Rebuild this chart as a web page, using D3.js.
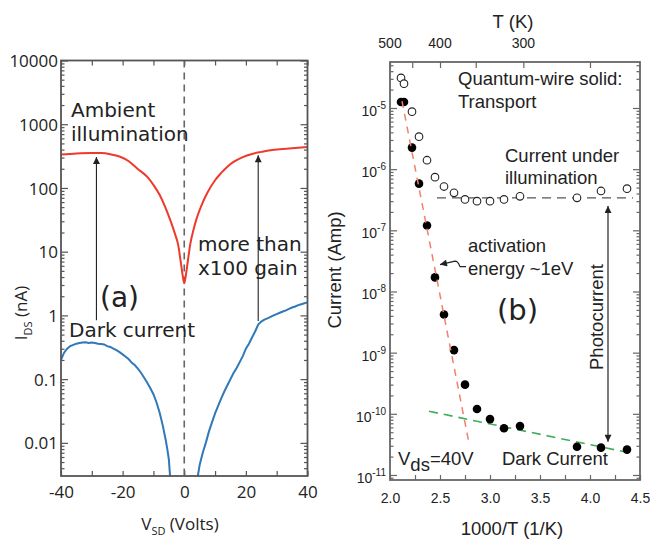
<!DOCTYPE html>
<html>
<head>
<meta charset="utf-8">
<script src="https://d3js.org/d3.v7.min.js"></script>
<style>
  body { margin: 0; background: #fff; }
  svg { display: block; }
  .os { font-family: "Open Sans", sans-serif; fill: #222; }
  .dv { font-family: "DejaVu Sans", sans-serif; fill: #222; }
  .hv { font-family: "Liberation Sans", Arial, sans-serif; fill: #222; }
</style>
</head>
<body>
<script>
// ---- panel (a): I-V curves, log current (nA) vs bias (V)
var vAmbient = [-40,-35,-30,-27,-24,-21,-18,-15,-12,-10,-8,-6,-4.5,-3,-2,-1,-0.5,0,0.5,1,2,3,4,5.5,7.5,10,12,14,16,19,22,25,28,32,36,40];
var iAmbient = [335,348,354,352,338,312,262,197,149,112,78,48,31,19,13,6.2,4.2,3.2,4.2,6.2,13.5,22,33,52,84,132,172,216,256,305,342,368,392,410,425,440];

var vDarkNeg = [-40,-39,-38,-37,-36,-35,-34,-33,-32,-31,-30,-29,-28,-27,-26,-25,-24,-23,-22,-21,-20,-19,-18,-17,-16,-15,-14,-13,-12,-11,-10,-9,-8,-7,-6,-5.5,-5,-4.6];
var iDarkNeg = [0.20,0.26,0.30,0.33,0.345,0.36,0.37,0.375,0.38,0.37,0.375,0.37,0.36,0.355,0.35,0.33,0.32,0.30,0.285,0.265,0.245,0.225,0.205,0.18,0.165,0.145,0.125,0.105,0.088,0.072,0.058,0.043,0.03,0.019,0.011,0.008,0.0055,0.003];
var vDarkPos = [4.4,5,6,7,8,9,10,11,12,13,14,15,16,17,18,19,20,21,22,23,24,25,26,27,28,29,30,31,32,33,34,35,36,37,38,39,40];
var iDarkPos = [0.003,0.0045,0.007,0.01,0.015,0.021,0.029,0.038,0.05,0.064,0.08,0.1,0.125,0.15,0.185,0.23,0.3,0.36,0.45,0.56,0.72,0.8,0.86,0.9,0.95,1.0,1.05,1.1,1.15,1.2,1.27,1.33,1.38,1.45,1.5,1.55,1.6];

// ---- panel (b): current (A) vs 1000/T
var invT   = [2.11,2.14,2.22,2.29,2.37,2.45,2.54,2.64,2.75,2.87,3.0,3.14,3.30,3.87,4.11,4.37];
var iLight = [3.1e-5,2.5e-5,8.7e-6,3.4e-6,1.4e-6,7.4e-7,5.2e-7,4.1e-7,3.2e-7,3.0e-7,3.0e-7,3.2e-7,3.6e-7,3.4e-7,4.4e-7,4.8e-7];
var iDark  = [1.25e-5,1.25e-5,2.25e-6,5.8e-7,1.2e-7,1.7e-8,4.2e-9,1.1e-9,3.0e-10,1.2e-10,8.2e-11,5.8e-11,6.3e-11,2.9e-11,2.8e-11,2.6e-11];
var tempTicks = [500,450,400,350,300,250];
var tempLabels = [500,400,300];
var decadesB = [-11,-10,-9,-8,-7,-6,-5];

var W = 650, H = 540;
var svg = d3.select("body").append("svg").attr("width", W).attr("height", H);
svg.append("rect").attr("width", W).attr("height", H).attr("fill", "#fff");

var defs = svg.append("defs");
defs.append("marker").attr("id", "head")
    .attr("viewBox", "0 -5 10 10").attr("refX", 10).attr("refY", 0)
    .attr("markerWidth", 9).attr("markerHeight", 7).attr("markerUnits", "userSpaceOnUse")
    .attr("orient", "auto-start-reverse")
  .append("path").attr("d", "M0,-5L10,0L0,5Z").attr("fill", "#222");

function minorTicks(lo, hi) {
  var out = [];
  for (var e = lo; e <= hi; e++)
    for (var k = 2; k <= 9; k++) out.push(k * Math.pow(10, e));
  return out;
}
function clean(g, col) {
  g.select(".domain").remove();
  g.selectAll(".tick line").attr("stroke", col).attr("stroke-width", 1.2);
}

// ================= panel (a) =================
var xa = d3.scaleLinear().domain([-40, 40]).range([61, 307.5]);
var ya = d3.scaleLog().domain([Math.pow(10, -2.52), 1e4]).range([476, 60.5]);
var decA = [0.01, 0.1, 1, 10, 100, 1000, 10000];
var minA = minorTicks(-3, 3).filter(function(d){ return d >= ya.domain()[0] && d <= 1e4; });
var ga = svg.append("g");

ga.append("clipPath").attr("id", "clipA").append("rect")
  .attr("x", xa.range()[0]).attr("y", ya.range()[1])
  .attr("width", xa.range()[1] - xa.range()[0]).attr("height", ya.range()[0] - ya.range()[1]);

var colA = "#555";
var xt = d3.range(-40, 41, 10);
ga.append("g").attr("transform", "translate(0," + ya.range()[0] + ")")
  .call(d3.axisBottom(xa).tickValues(xt).tickSize(-5).tickPadding(10)
        .tickFormat(function(d){ return d % 20 === 0 ? String(d) : ""; }))
  .call(clean, colA)
  .selectAll("text").attr("class", "os").attr("font-size", 17);
ga.append("g").attr("transform", "translate(0," + ya.range()[1] + ")")
  .call(d3.axisTop(xa).tickValues(xt).tickSize(-5).tickFormat(""))
  .call(clean, colA);
ga.append("g").attr("transform", "translate(" + xa.range()[0] + ",0)")
  .call(d3.axisLeft(ya).tickValues(decA).tickSize(-7).tickPadding(3).tickFormat(d3.format("~g")))
  .call(clean, colA)
  .selectAll("text").attr("class", "os").attr("font-size", 17).attr("dy", "0.36em");
ga.append("g").attr("transform", "translate(" + xa.range()[0] + ",0)")
  .call(d3.axisLeft(ya).tickValues(minA).tickSize(-3.5).tickFormat(""))
  .call(clean, colA);
ga.append("g").attr("transform", "translate(" + xa.range()[1] + ",0)")
  .call(d3.axisRight(ya).tickValues(decA).tickSize(-7).tickFormat(""))
  .call(clean, colA);
ga.append("g").attr("transform", "translate(" + xa.range()[1] + ",0)")
  .call(d3.axisRight(ya).tickValues(minA).tickSize(-3.5).tickFormat(""))
  .call(clean, colA);

// zero-bias dashed line
ga.append("line").attr("x1", xa(0)).attr("x2", xa(0))
  .attr("y1", ya.range()[1]).attr("y2", ya.range()[0])
  .attr("stroke", "#666").attr("stroke-width", 1.6).attr("stroke-dasharray", "7,5");

var lineA = d3.line().x(function(d){ return xa(d[0]); }).y(function(d){ return ya(d[1]); });
var lineAc = d3.line().curve(d3.curveMonotoneX)
  .x(function(d){ return xa(d[0]); }).y(function(d){ return ya(d[1]); });
var plotA = ga.append("g").attr("clip-path", "url(#clipA)");
plotA.append("path").datum(d3.zip(vAmbient, iAmbient)).attr("d", lineAc)
  .attr("fill", "none").attr("stroke", "#ee3a2c").attr("stroke-width", 2);
plotA.append("path").datum(d3.zip(vDarkNeg, iDarkNeg)).attr("d", lineA)
  .attr("fill", "none").attr("stroke", "#2f78b9").attr("stroke-width", 2);
plotA.append("path").datum(d3.zip(vDarkPos, iDarkPos)).attr("d", lineA)
  .attr("fill", "none").attr("stroke", "#2f78b9").attr("stroke-width", 2);

// gain arrows
[[-28.5, 0.84, 305], [24, 0.82, 325]].forEach(function(a){
  ga.append("line").attr("x1", xa(a[0])).attr("x2", xa(a[0]))
    .attr("y1", ya(a[1])).attr("y2", ya(a[2]))
    .attr("stroke", "#222").attr("stroke-width", 1.1).attr("marker-end", "url(#head)");
});

// frame
ga.append("rect").attr("x", xa.range()[0]).attr("y", ya.range()[1])
  .attr("width", xa.range()[1] - xa.range()[0]).attr("height", ya.range()[0] - ya.range()[1])
  .attr("fill", "none").attr("stroke", colA).attr("stroke-width", 1.8);

function txt(g, cls, size, x, y, s) {
  return g.append("text").attr("class", cls).attr("font-size", size).attr("x", x).attr("y", y).text(s);
}
txt(ga, "dv", 20, 71, 117, "Ambient");
txt(ga, "dv", 20, 71, 141, "illumination");
txt(ga, "dv", 20, 198, 251, "more than");
txt(ga, "dv", 20, 198, 275, "x100 gain");
txt(ga, "dv", 28, 100, 307, "(a)");
txt(ga, "dv", 20, 69, 337, "Dark current");

var xl = ga.append("text").attr("class", "os").attr("font-size", 17)
  .attr("x", 180).attr("y", 530).attr("text-anchor", "middle");
xl.append("tspan").text("V");
xl.append("tspan").attr("font-size", 11).attr("dy", 5).text("SD");
xl.append("tspan").attr("dy", -5).text(" (Volts)");

var yl = ga.append("text").attr("class", "os").attr("font-size", 17)
  .attr("transform", "translate(27,313) rotate(-90)").attr("text-anchor", "middle");
yl.append("tspan").text("I");
yl.append("tspan").attr("font-size", 11).attr("dy", 5).text("DS");
yl.append("tspan").attr("dy", -5).text(" (nA)");

// ================= panel (b) =================
var xb = d3.scaleLinear().domain([2, 4.5]).range([390, 640]);
var yb = d3.scaleLog().domain([Math.pow(10, -11.082), Math.pow(10, -4.248)]).range([480, 62]);
var decB = decadesB.map(function(e){ return Math.pow(10, e); });
var minB = minorTicks(-12, -5).filter(function(d){ return d >= yb.domain()[0] && d <= yb.domain()[1]; });
var gb = svg.append("g");
var colB = "#666";

gb.append("g").attr("transform", "translate(0," + yb.range()[0] + ")")
  .call(d3.axisBottom(xb).tickValues(d3.range(2, 4.51, 0.25)).tickSize(-5).tickPadding(13)
        .tickFormat(function(d){ return Math.round(d * 4) % 2 === 0 ? d3.format(".1f")(d) : ""; }))
  .call(clean, colB)
  .selectAll("text").attr("class", "hv").attr("font-size", 14);
gb.append("g").attr("transform", "translate(0," + yb.range()[1] + ")")
  .call(d3.axisTop(xb).tickValues(tempTicks.map(function(t){ return 1000 / t; })).tickSize(-6).tickFormat(""))
  .call(clean, colB);
gb.selectAll(".tlab").data(tempLabels).enter().append("text")
  .attr("class", "hv").attr("font-size", 14).attr("text-anchor", "middle")
  .attr("x", function(t){ return xb(1000 / t); }).attr("y", 48)
  .text(function(t){ return t; });
[["axisLeft", xb.range()[0]], ["axisRight", xb.range()[1]]].forEach(function(s){
  gb.append("g").attr("transform", "translate(" + s[1] + ",0)")
    .call(d3[s[0]](yb).tickValues(decB).tickSize(-7).tickFormat(""))
    .call(clean, colB);
  gb.append("g").attr("transform", "translate(" + s[1] + ",0)")
    .call(d3[s[0]](yb).tickValues(minB).tickSize(-3.5).tickFormat(""))
    .call(clean, colB);
});
var yLab = gb.selectAll(".ylab").data(decadesB).enter().append("text")
  .attr("class", "hv").attr("font-size", 14).attr("text-anchor", "end")
  .attr("x", 386).attr("y", function(e){ return yb(Math.pow(10, e)) + 8; });
yLab.append("tspan").text("10");
yLab.append("tspan").attr("font-size", 10).attr("dy", -7).text(function(e){ return String(e); });

// fit lines
function seg(p, col, dash, w) {
  gb.append("line").attr("x1", xb(p[0])).attr("y1", yb(p[1])).attr("x2", xb(p[2])).attr("y2", yb(p[3]))
    .attr("stroke", col).attr("stroke-width", w).attr("stroke-dasharray", dash);
}
seg([2.47, 3.4e-7, 4.43, 3.4e-7], "#555", "9,6", 1.3);
seg([2.39, 1.1e-10, 4.37, 2.35e-11], "#3fae5a", "9,6", 1.6);

gb.selectAll(".open").data(d3.zip(invT, iLight)).enter().append("circle")
  .attr("cx", function(d){ return xb(d[0]); }).attr("cy", function(d){ return yb(d[1]); })
  .attr("r", 3.8).attr("fill", "#fff").attr("stroke", "#222").attr("stroke-width", 1.1);
gb.selectAll(".fill").data(d3.zip(invT, iDark)).enter().append("circle")
  .attr("cx", function(d){ return xb(d[0]); }).attr("cy", function(d){ return yb(d[1]); })
  .attr("r", 4.3).attr("fill", "#000");

seg([2.12, 1.3e-5, 2.79, 3.3e-11], "#f0806c", "7,6", 1.5);

// photocurrent double arrow
gb.append("line").attr("x1", xb(4.18)).attr("x2", xb(4.18))
  .attr("y1", yb(2.5e-7)).attr("y2", yb(3.5e-11))
  .attr("stroke", "#222").attr("stroke-width", 1.2)
  .attr("marker-start", "url(#head)").attr("marker-end", "url(#head)");

// activation arrow (squiggle)
var tx = xb(2.49), ty = yb(2.75e-8);
gb.append("path")
  .attr("d", "M" + (tx + 27) + "," + (ty + 2) + "L" + (tx + 21) + "," + (ty + 2) +
             "Q" + (tx + 19) + "," + (ty - 3.5) + " " + (tx + 16) + "," + (ty - 3.5) +
             "L" + (tx + 1) + "," + ty)
  .attr("fill", "none").attr("stroke", "#222").attr("stroke-width", 1.1)
  .attr("marker-end", "url(#head)");

gb.append("rect").attr("x", xb.range()[0]).attr("y", yb.range()[1])
  .attr("width", xb.range()[1] - xb.range()[0]).attr("height", yb.range()[0] - yb.range()[1])
  .attr("fill", "none").attr("stroke", colB).attr("stroke-width", 1.8);

txt(gb, "hv", 18.5, 458, 85, "Quantum-wire solid:");
txt(gb, "hv", 18.5, 458, 108, "Transport");
txt(gb, "hv", 18.5, 505, 162, "Current under");
txt(gb, "hv", 18.5, 505, 184, "illumination");
txt(gb, "hv", 18.5, 468, 252, "activation");
txt(gb, "hv", 18.5, 468, 275, "energy ~1eV");
txt(gb, "dv", 29, 497, 320, "(b)");
txt(gb, "hv", 18.5, 502, 465, "Dark Current");
var vds = gb.append("text").attr("class", "hv").attr("font-size", 18.5).attr("x", 398).attr("y", 465);
vds.append("tspan").text("V");
vds.append("tspan").attr("dy", 6).text("ds");
vds.append("tspan").attr("dy", -6).text("=40V");

gb.append("text").attr("class", "hv").attr("font-size", 18.5)
  .attr("transform", "translate(603,317) rotate(-90)").attr("text-anchor", "middle").text("Photocurrent");
gb.append("text").attr("class", "hv").attr("font-size", 18.5)
  .attr("transform", "translate(341,270) rotate(-90)").attr("text-anchor", "middle").text("Current (Amp)");
gb.append("text").attr("class", "hv").attr("font-size", 18.5)
  .attr("x", 512).attr("y", 535).attr("text-anchor", "middle").text("1000/T (1/K)");
gb.append("text").attr("class", "hv").attr("font-size", 18.5)
  .attr("x", 513).attr("y", 28).attr("text-anchor", "middle").text("T (K)");
</script>
</body>
</html>
